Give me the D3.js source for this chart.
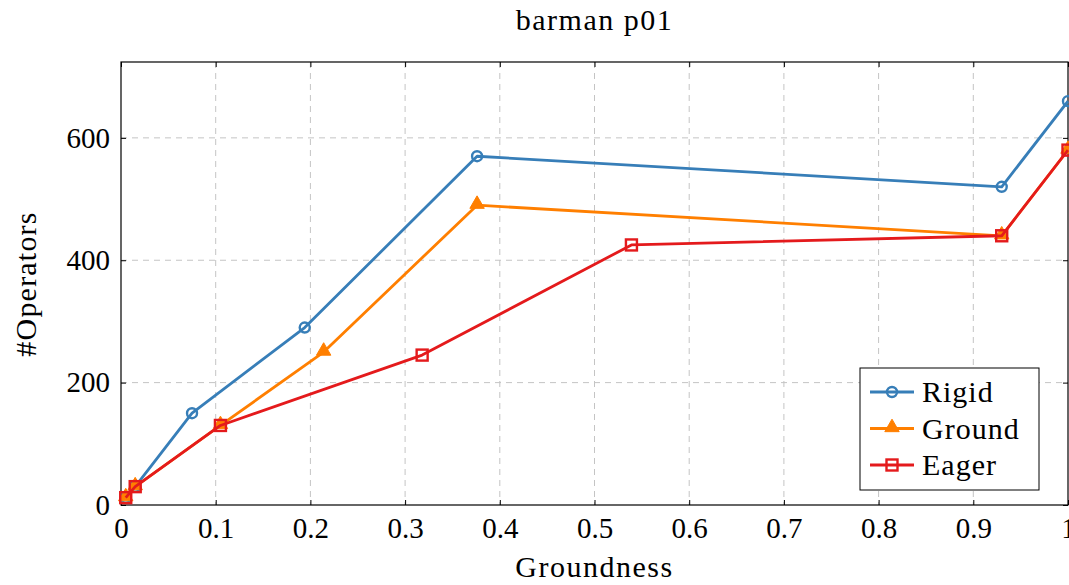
<!DOCTYPE html>
<html>
<head>
<meta charset="utf-8">
<script src="https://cdn.jsdelivr.net/npm/d3@7"></script>
<style>
  body { margin: 0; background: #fff; }
  svg text { font-family: "Liberation Serif", "DejaVu Serif", serif !important; fill: #000; }
</style>
</head>
<body>
<div id="chart"></div>
<script>
// data
var xTicks = [0, 0.1, 0.2, 0.3, 0.4, 0.5, 0.6, 0.7, 0.8, 0.9, 1];
var yTicks = [0, 200, 400, 600];

var rigidX = [0.005, 0.015, 0.075, 0.194, 0.376, 0.93, 1];
var rigidY = [12, 30, 150, 290, 570, 520, 660];

var groundX = [0.005, 0.015, 0.105, 0.214, 0.376, 0.93, 1];
var groundY = [12, 30, 130, 250, 490, 440, 580];

var eagerX = [0.005, 0.015, 0.105, 0.318, 0.539, 0.93, 1];
var eagerY = [12, 30, 130, 245, 425, 440, 580];

var seriesNames = ["Rigid", "Ground", "Eager"];
var seriesColors = ["#377eb8", "#ff7f00", "#e41a1c"];

var serif = "'Liberation Serif', 'DejaVu Serif', serif";

function init() {
    var w = 1069, h = 585;
    var left = 121, right = 1068, top = 62, bottom = 505;

    var svg = d3.select("#chart").append("svg")
        .attr("width", w)
        .attr("height", h)
        .style("font-family", serif);

    var x = d3.scaleLinear().domain([0, 1]).range([left, right]);
    var y = d3.scaleLinear().domain([0, 724]).range([bottom, top]);

    // grid
    var grid = svg.append("g")
        .attr("stroke", "#c4c4c4")
        .attr("stroke-width", 1)
        .attr("stroke-dasharray", "6,5");
    grid.selectAll("line.vx")
        .data(xTicks.slice(1, -1))
        .enter().append("line")
        .attr("x1", d => x(d)).attr("x2", d => x(d))
        .attr("y1", top).attr("y2", bottom);
    grid.selectAll("line.hy")
        .data(yTicks.slice(1))
        .enter().append("line")
        .attr("class", "hy")
        .attr("x1", left).attr("x2", right)
        .attr("y1", d => y(d)).attr("y2", d => y(d));

    // axes
    var xAxis = d3.axisBottom(x).tickValues(xTicks).tickSizeInner(-5).tickSizeOuter(0)
        .tickPadding(12).tickFormat(d => d === 0 ? "0" : d === 1 ? "1" : d3.format(".1f")(d));
    var xTop = d3.axisTop(x).tickValues(xTicks).tickSizeInner(-5).tickSizeOuter(0).tickFormat("");
    var yAxis = d3.axisLeft(y).tickValues(yTicks).tickSizeInner(-5).tickSizeOuter(0).tickPadding(11);
    var yRight = d3.axisRight(y).tickValues(yTicks).tickSizeInner(-5).tickSizeOuter(0).tickFormat("");

    svg.append("g").attr("transform", `translate(0,${bottom})`).call(xAxis)
        .attr("font-family", serif)
        .call(g => g.select(".domain").remove())
        .selectAll("text").attr("font-size", "29px").style("font-family", serif);
    svg.append("g").attr("transform", `translate(0,${top})`).call(xTop)
        .call(g => g.select(".domain").remove());
    svg.append("g").attr("transform", `translate(${left},0)`).call(yAxis)
        .attr("font-family", serif)
        .call(g => g.select(".domain").remove())
        .selectAll("text").attr("font-size", "29px").style("font-family", serif);
    svg.append("g").attr("transform", `translate(${right},0)`).call(yRight)
        .call(g => g.select(".domain").remove());

    svg.append("rect")
        .attr("x", left).attr("y", top)
        .attr("width", right - left).attr("height", bottom - top)
        .attr("fill", "none").attr("stroke", "#000").attr("stroke-width", 1.2);

    // lines and marks
    var all = [
        { xs: rigidX, ys: rigidY },
        { xs: groundX, ys: groundY },
        { xs: eagerX, ys: eagerY }
    ];
    var line = d3.line().x(d => x(d[0])).y(d => y(d[1]));

    function drawMark(g, i, px, py) {
        var c = seriesColors[i];
        if (i === 0) {
            g.append("circle").attr("cx", px).attr("cy", py).attr("r", 5)
                .attr("fill", "none").attr("stroke", c).attr("stroke-width", 2.4);
        } else if (i === 1) {
            g.append("path")
                .attr("d", d3.symbol().type(d3.symbolTriangle).size(90)())
                .attr("transform", `translate(${px},${py - 1})`)
                .attr("fill", c).attr("stroke", c).attr("stroke-width", 1);
        } else {
            g.append("rect").attr("x", px - 5.5).attr("y", py - 5.5)
                .attr("width", 11).attr("height", 11)
                .attr("fill", "none").attr("stroke", c).attr("stroke-width", 2.4);
        }
    }

    all.forEach(function (s, i) {
        var pts = s.xs.map((v, k) => [v, s.ys[k]]);
        var g = svg.append("g");
        g.append("path").datum(pts)
            .attr("d", line)
            .attr("fill", "none")
            .attr("stroke", seriesColors[i])
            .attr("stroke-width", 2.8)
            .attr("stroke-linejoin", "round");
        pts.forEach(p => drawMark(g, i, x(p[0]), y(p[1])));
    });

    // legend
    var lg = svg.append("g");
    lg.append("rect")
        .attr("x", 860).attr("y", 368).attr("width", 179).attr("height", 122)
        .attr("fill", "#fff").attr("stroke", "#000").attr("stroke-width", 1);
    seriesNames.forEach(function (name, i) {
        var ly = 392 + i * 36.5;
        lg.append("line").attr("x1", 870).attr("x2", 914).attr("y1", ly).attr("y2", ly)
            .attr("stroke", seriesColors[i]).attr("stroke-width", 2.8);
        drawMark(lg, i, 892, ly);
        lg.append("text").attr("x", 922).attr("y", ly + 10)
            .attr("font-size", "30px").attr("letter-spacing", "1px")
            .style("font-family", serif).text(name);
    });

    // titles
    svg.append("text")
        .attr("x", (left + right) / 2).attr("y", 30)
        .attr("text-anchor", "middle").attr("font-size", "30px")
        .attr("letter-spacing", "1.5px")
        .style("font-family", serif)
        .text("barman p01");

    svg.append("text")
        .attr("x", (left + right) / 2).attr("y", 577)
        .attr("text-anchor", "middle").attr("font-size", "30px")
        .attr("letter-spacing", "1.5px")
        .style("font-family", serif)
        .text("Groundness");

    svg.append("text")
        .attr("transform", "rotate(-90)")
        .attr("x", -284).attr("y", 36)
        .attr("text-anchor", "middle").attr("font-size", "30px")
        .attr("letter-spacing", "1.2px")
        .style("font-family", serif)
        .text("#Operators");
}

window.onload = init;
</script>
</body>
</html>
